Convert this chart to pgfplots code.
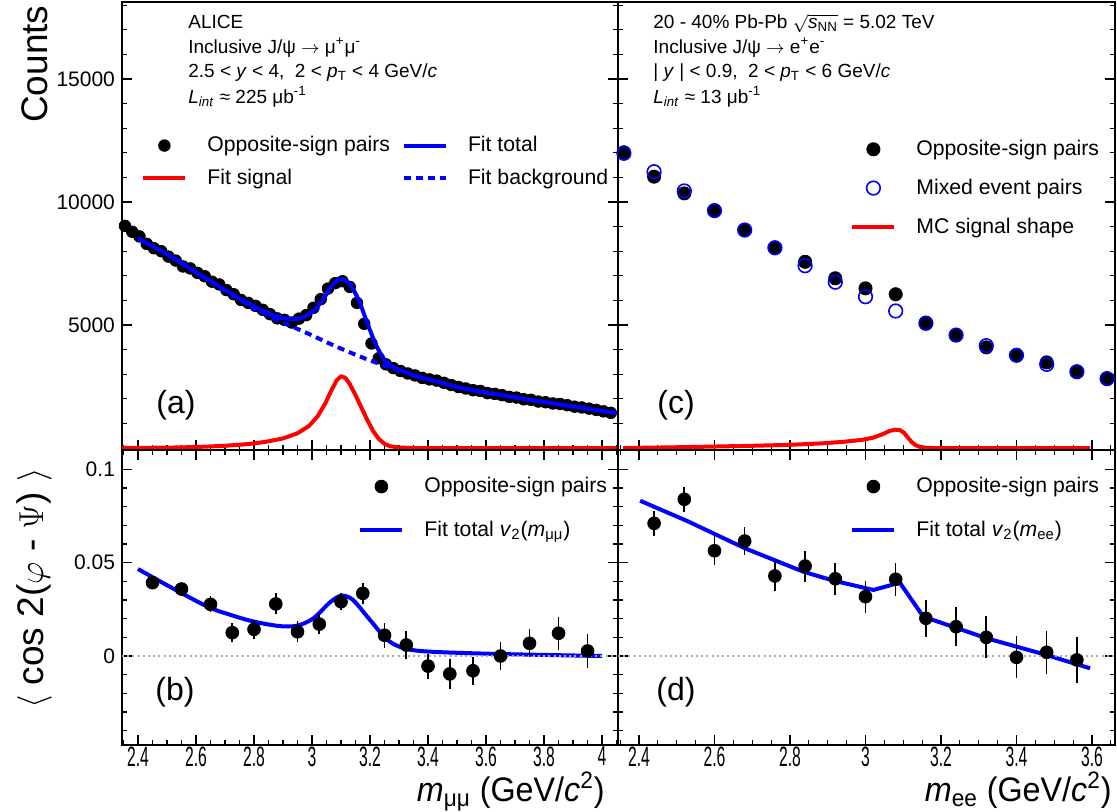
\documentclass[border=0pt]{standalone}
\usepackage{fontspec}
\setmainfont{Liberation Sans}
\usepackage{graphicx}
\usepackage{pgfplots}
\pgfplotsset{compat=1.18}

\definecolor{rootblue}{RGB}{0,0,255}
\definecolor{rootred}{RGB}{255,0,0}
\definecolor{zerogray}{RGB}{170,170,170}

\newcommand{\tlabel}{\fontsize{10.5}{12}\selectfont}
\newcommand{\legfont}{\fontsize{10.6}{12.7}\selectfont}
\newcommand{\infofont}{\fontsize{9.5}{11.4}\selectfont}
\newcommand{\titlefont}{\fontsize{18.5}{22}\selectfont}
\newcommand{\xtitlefont}{\fontsize{17}{20}\selectfont}
\newcommand{\panelfont}{\fontsize{16}{19}\selectfont}

% data: opposite-sign pairs, dimuon channel (panel a)
\pgfplotstableread{
x      y
2.355  9030
2.380  8790
2.405  8600
2.430  8300
2.455  8120
2.480  8000
2.505  7780
2.530  7620
2.555  7380
2.580  7300
2.605  7120
2.630  6980
2.655  6760
2.680  6650
2.705  6420
2.730  6250
2.755  6020
2.780  5900
2.805  5780
2.830  5620
2.855  5440
2.880  5270
2.905  5210
2.930  5100
2.955  5260
2.980  5400
3.005  5700
3.030  6050
3.055  6480
3.080  6700
3.105  6780
3.130  6550
3.155  5900
3.180  5050
3.205  4250
3.230  3650
3.255  3400
3.280  3250
3.305  3130
3.330  3030
3.355  2950
3.380  2850
3.405  2790
3.430  2740
3.455  2650
3.480  2560
3.505  2480
3.530  2420
3.555  2350
3.580  2320
3.605  2230
3.630  2200
3.655  2150
3.680  2080
3.705  2050
3.730  1980
3.755  1960
3.780  1890
3.805  1860
3.830  1810
3.855  1790
3.880  1740
3.905  1680
3.930  1650
3.955  1600
3.980  1550
4.005  1490
4.030  1430
}\mumudata

% panel c: dielectron, opposite-sign and mixed-event pairs
\pgfplotstableread{
x     os     me
2.36  12020  11980
2.44  11030  11230
2.52  10350  10450
2.60  9650   9650
2.68  8860   8860
2.76  8140   8140
2.84  7570   7410
2.92  6900   6740
3.00  6490   6150
3.08  6250   5570
3.16  5095   5070
3.24  4590   4590
3.32  4090   4160
3.40  3770   3770
3.48  3480   3400
3.56  3100   3100
3.64  2820   2820
}\eedata

% panel b: <cos 2(phi-Psi)>, dimuon
\pgfplotstableread{
x      y        ey
2.450  0.0393   0.0035
2.550  0.0359   0.0038
2.650  0.0277   0.0042
2.725  0.0125   0.0052
2.800  0.0143   0.0052
2.875  0.0279   0.0056
2.950  0.0130   0.0055
3.025  0.0171   0.0054
3.100  0.0291   0.0046
3.175  0.0336   0.0056
3.250  0.0111   0.0067
3.325  0.0059   0.0073
3.400  -0.0054  0.0067
3.475  -0.0096  0.0081
3.555  -0.0079  0.0075
3.650  0.0000   0.0076
3.750  0.0068   0.0076
3.850  0.0122   0.0088
3.950  0.0027   0.0089
}\vmumu

% panel d: <cos 2(phi-Psi)>, dielectron
\pgfplotstableread{
x     y        ey
2.44  0.0711   0.0067
2.52  0.0840   0.0068
2.60  0.0564   0.0078
2.68  0.0616   0.0076
2.76  0.0429   0.0078
2.84  0.0482   0.0083
2.92  0.0414   0.0087
3.00  0.0318   0.0086
3.08  0.0411   0.0087
3.16  0.0202   0.0100
3.24  0.0157   0.0105
3.32  0.0100   0.0112
3.40  -0.0007  0.0113
3.48  0.0020   0.0115
3.56  -0.0021  0.0125
}\vee

\pgfplotsset{
  alice/.style={
    scale only axis,
    clip=false,
    clip marker paths=true,
    axis line style={line width=0.9pt},
    tick align=inside,
    major tick length=5pt,
    minor tick length=2.5pt,
    every tick/.style={black, line width=0.6pt},
    /pgf/number format/assume math mode=true,
    yticklabel style={font=\tlabel, /pgf/number format/fixed, /pgf/number format/1000 sep={}},
    xticklabel={\scalebox{0.56}[1]{\pgfmathprintnumber{\tick}}},
    xticklabel style={font=\fontsize{14}{16}\selectfont, inner sep=0pt, yshift=-0.6pt},
    scaled y ticks=false,
    ytick pos=both,
    legend cell align=left,
    legend style={draw=none, fill=none, inner sep=0pt, font=\legfont,
      nodes={inner sep=1pt}, anchor=north west},
  },
  leg line/.style={legend image code/.code={\draw[##1] (0pt,0pt) -- (21pt,0pt);}},
  leg mark/.style={legend image code/.code={\path[draw=none, fill=none] (0pt,0pt) -- (21pt,0pt); \draw[##1] plot coordinates {(10.5pt,0pt)};}},
  left panel/.style={
    width=248pt, xmin=2.3448, xmax=4.055,
    xtick={2.4,2.6,2.8,3.0,3.2,3.4,3.6,3.8,4.0},
    minor xtick={2.35,2.45,2.5,2.55,2.65,2.7,2.75,2.85,2.9,2.95,3.05,3.1,3.15,3.25,3.3,3.35,3.45,3.5,3.55,3.65,3.7,3.75,3.85,3.9,3.95,4.05},
  },
  right panel/.style={
    width=248.5pt, xmin=2.3444, xmax=3.661,
    xtick={2.4,2.6,2.8,3.0,3.2,3.4,3.6},
    minor xtick={2.35,2.45,2.5,2.55,2.65,2.7,2.75,2.85,2.9,2.95,3.05,3.1,3.15,3.25,3.3,3.35,3.45,3.5,3.55,3.65},
    yticklabels={},
  },
  top panel/.style={
    height=224pt, ymin=-81, ymax=18130,
    ytick={5000,10000,15000},
    minor ytick={1000,2000,3000,4000,6000,7000,8000,9000,11000,12000,13000,14000,16000,17000,18000},
    xtick pos=bottom, xticklabels={},
  },
  bottom panel/.style={
    height=147.5pt, ymin=-0.0477, ymax=0.1104,
    ytick={0,0.05,0.1},
    minor ytick={-0.04,-0.03,-0.02,-0.01,0.01,0.02,0.03,0.04,0.06,0.07,0.08,0.09},
    xtick pos=both,
  },
}

\begin{document}
\begin{tikzpicture}
\useasboundingbox (0pt,0pt) rectangle (558.5pt,-406pt);

% ---------------- (a) ----------------
\begin{axis}[alice, left panel, top panel,
  at={(61pt,-225pt)}, anchor=south west,
  ylabel={Counts},
  ylabel style={at={(axis description cs:-0.149,0.993)}, anchor=south east, font=\titlefont, inner sep=0pt},
  legend columns=2,
  legend style={at={(axis description cs:0.0383,0.7054)}, row sep=5pt,
    /tikz/every odd column/.append style={column sep=9pt},
    /tikz/every even column/.append style={column sep=5pt}},
]
\addlegendimage{mark=*, black, mark size=2.9pt, leg mark}
\addlegendentry{Opposite-sign pairs}
\addlegendimage{rootblue, line width=2pt, leg line}
\addlegendentry{Fit total}
\addlegendimage{rootred, line width=2pt, leg line}
\addlegendentry{Fit signal}
\addlegendimage{rootblue, line width=2pt, dash pattern=on 3.5pt off 2.5pt, leg line}
\addlegendentry{Fit background}

\addplot[forget plot, only marks, mark=*, black, mark size=2.9pt] table[x=x, y=y] {\mumudata};
\addplot[forget plot, rootblue, line width=2pt, dash pattern=on 3.5pt off 2.5pt] coordinates {
 (2.40,8530) (2.50,7880) (2.60,7130) (2.70,6400) (2.80,5680) (2.85,5360) (2.90,5090)
 (2.95,4840) (3.00,4580) (3.05,4300) (3.10,4040) (3.15,3790) (3.20,3560) (3.25,3350)
 (3.30,3150) (3.36,2930) (3.40,2790) (3.50,2480) (3.60,2250) (3.70,2060) (3.80,1870)
 (3.90,1690) (4.00,1510) (4.05,1420)};
\addplot[forget plot, rootred, line width=2pt, line join=round] coordinates {
 (2.345,0) (2.50,15) (2.60,40) (2.70,90) (2.78,160) (2.84,250) (2.90,390) (2.95,600)
 (2.99,900) (3.02,1300) (3.045,1800) (3.065,2300) (3.085,2750) (3.10,2920) (3.115,2850)
 (3.13,2600) (3.15,2150) (3.17,1650) (3.19,1150) (3.21,700) (3.23,370) (3.25,170)
 (3.27,70) (3.30,20) (3.35,0) (4.05,0)};
\addplot[forget plot, rootblue, line width=2pt, smooth, tension=0.5] coordinates {
 (2.40,8530) (2.45,8210) (2.50,7880) (2.55,7530) (2.60,7150) (2.65,6790) (2.70,6430)
 (2.75,6080) (2.80,5760) (2.85,5470) (2.90,5280) (2.95,5250) (3.00,5520) (3.04,6080)
 (3.07,6620) (3.10,6870) (3.13,6660) (3.16,6040) (3.19,5100) (3.22,4200) (3.25,3580)
 (3.28,3290) (3.32,3100) (3.36,2920) (3.40,2790) (3.45,2650) (3.50,2480) (3.55,2360)
 (3.60,2250) (3.65,2160) (3.70,2060) (3.75,1960) (3.80,1870) (3.85,1780) (3.90,1690)
 (3.95,1600) (4.00,1510) (4.05,1420)};
\end{axis}

% ---------------- (c) ----------------
\begin{axis}[alice, right panel, top panel,
  at={(309pt,-225pt)}, anchor=south west,
  legend style={at={(axis description cs:0.4668,0.697)}, row sep=8.2pt,
    /tikz/every odd column/.append style={column sep=9pt}},
]
\addlegendimage{mark=*, black, mark size=3.3pt, leg mark}
\addlegendentry{Opposite-sign pairs}
\addlegendimage{mark=o, rootblue, mark size=3.4pt, mark options={line width=0.8pt}, leg mark}
\addlegendentry{Mixed event pairs}
\addlegendimage{rootred, line width=2pt, leg line}
\addlegendentry{MC signal shape}

\addplot[forget plot, only marks, mark=*, black, mark size=3.3pt] table[x=x, y=os] {\eedata};
\addplot[forget plot, only marks, mark=o, rootblue, mark size=3.4pt, mark options={line width=0.8pt}] table[x=x, y=me] {\eedata};
\addplot[forget plot, rootred, line width=2pt, line join=round] coordinates {
 (2.358,0) (2.50,30) (2.60,60) (2.70,90) (2.80,130) (2.88,185) (2.94,250) (2.99,330)
 (3.02,420) (3.045,560) (3.065,700) (3.08,745) (3.092,720) (3.102,620) (3.112,430)
 (3.122,250) (3.132,120) (3.145,40) (3.16,10) (3.18,0) (3.595,0)};
\end{axis}

% ---------------- (b) ----------------
\begin{axis}[alice, left panel, bottom panel,
  at={(61pt,-372.5pt)}, anchor=south west,
  ylabel={$\big\langle$ cos 2($\varphi$ - $\Psi$) $\big\rangle$},
  ylabel style={at={(axis description cs:-0.141,0.939)}, anchor=south east, font=\titlefont, inner sep=0pt},
  xlabel={\scalebox{0.95}[1]{\textit{m}\textsubscript{μμ} (GeV/\textit{c}\textsuperscript{2})}},
  xlabel style={at={(axis description cs:1,0)}, anchor=base east, xshift=-6.5pt, yshift=-28pt, font=\xtitlefont, inner sep=0pt},
  legend style={at={(axis description cs:0.4758,0.9153)}, row sep=10.6pt,
    /tikz/every odd column/.append style={column sep=9pt}},
]
\addlegendimage{mark=*, black, mark size=3.2pt, leg mark}
\addlegendentry{Opposite-sign pairs}
\addlegendimage{rootblue, line width=2pt, leg line}
\addlegendentry{Fit total \textit{v}\textsubscript{2}(\textit{m}\textsubscript{μμ})}

\addplot[forget plot, rootblue, line width=2pt, smooth, tension=0.5] coordinates {
 (2.40,0.0466) (2.51,0.0371) (2.64,0.0264) (2.72,0.0220) (2.80,0.0184) (2.89,0.0160)
 (2.95,0.0163) (3.005,0.0202) (3.06,0.0285) (3.10,0.0323) (3.14,0.0302) (3.20,0.0193)
 (3.26,0.0086) (3.32,0.0040) (3.41,0.0023) (3.64,0.0011) (4.00,0.0000)};
\addplot[forget plot, zerogray, line width=1pt, dash pattern=on 1pt off 1.6pt] coordinates {(2.3448,0) (4.055,0)};
\addplot[forget plot, only marks, mark=*, black, mark size=3.2pt,
  error bars/.cd, y dir=both, y explicit, error mark=none,
  error bar style={line width=0.8pt, black}] table[x=x, y=y, y error=ey] {\vmumu};
\end{axis}

% ---------------- (d) ----------------
\begin{axis}[alice, right panel, bottom panel,
  at={(309pt,-372.5pt)}, anchor=south west,
  xlabel={\scalebox{0.95}[1]{\textit{m}\textsubscript{ee} (GeV/\textit{c}\textsuperscript{2})}},
  xlabel style={at={(axis description cs:1,0)}, anchor=base east, xshift=-1.5pt, yshift=-28pt, font=\xtitlefont, inner sep=0pt},
  legend style={at={(axis description cs:0.4668,0.9153)}, row sep=10.6pt,
    /tikz/every odd column/.append style={column sep=9pt}},
]
\addlegendimage{mark=*, black, mark size=3.2pt, leg mark}
\addlegendentry{Opposite-sign pairs}
\addlegendimage{rootblue, line width=2pt, leg line}
\addlegendentry{Fit total \textit{v}\textsubscript{2}(\textit{m}\textsubscript{ee})}

\addplot[forget plot, rootblue, line width=2pt, line join=round] coordinates {
 (2.403,0.0832) (2.526,0.0725) (2.681,0.0577) (2.835,0.0452) (2.915,0.0404)
 (3.021,0.0354) (3.091,0.0393) (3.153,0.0211) (3.321,0.0095) (3.48,0.0005) (3.595,-0.0066)};
\addplot[forget plot, zerogray, line width=1pt, dash pattern=on 1pt off 1.6pt] coordinates {(2.3444,0) (3.661,0)};
\addplot[forget plot, only marks, mark=*, black, mark size=3.2pt,
  error bars/.cd, y dir=both, y explicit, error mark=none,
  error bar style={line width=0.8pt, black}] table[x=x, y=y, y error=ey] {\vee};
\end{axis}

% ---------------- captions ----------------
\begin{scope}[every node/.style={anchor=base west, inner sep=0pt, font=\infofont}]
\node at (94pt,-14.2pt) {ALICE};
\node at (94pt,-26.7pt) {Inclusive J/ψ $\rightarrow$ μ\textsuperscript{+}μ\textsuperscript{-}};
\node at (94pt,-38.8pt) {2.5 < \textit{y} < 4,\ \ 2 < \textit{p}\textsubscript{T} < 4 GeV/\textit{c}};
\node at (94pt,-51.7pt) {\textit{L}\textsubscript{\textit{int}} ≈ 225 μb\textsuperscript{-1}};
\node at (326.5pt,-14.2pt) {20 - 40\% Pb-Pb $\sqrt{\mbox{\textit{s}\textsubscript{NN}}}$ = 5.02 TeV};
\node at (326.5pt,-26.7pt) {Inclusive J/ψ $\rightarrow$ e\textsuperscript{+}e\textsuperscript{-}};
\node at (326.5pt,-38.8pt) {| \textit{y} | < 0.9,\ \ 2 < \textit{p}\textsubscript{T} < 6 GeV/\textit{c}};
\node at (326.5pt,-51.7pt) {\textit{L}\textsubscript{\textit{int}} ≈ 13 μb\textsuperscript{-1}};
\end{scope}

\begin{scope}[every node/.style={anchor=west, inner sep=0pt, font=\panelfont}]
\node at (78pt,-202.5pt) {(a)};
\node at (328.5pt,-202.5pt) {(c)};
\node at (77.5pt,-346pt) {(b)};
\node at (328pt,-346pt) {(d)};
\end{scope}
\end{tikzpicture}
\end{document}
